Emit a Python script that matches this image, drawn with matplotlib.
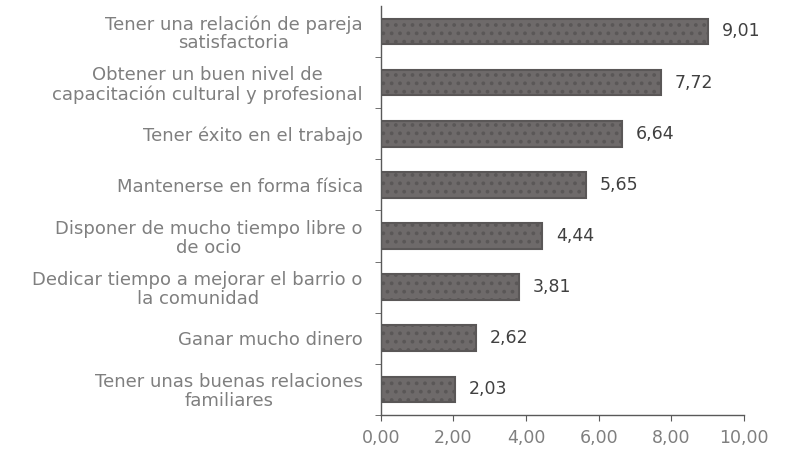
import matplotlib.pyplot as plt
import matplotlib as mpl

mpl.rcParams['font.family'] = ['DejaVu Sans']
mpl.rcParams['hatch.color'] = 'white'
mpl.rcParams['hatch.linewidth'] = 1.5

categories = ['Tener una relación de pareja\nsatisfactoria',
              'Obtener un buen nivel de\ncapacitación cultural y profesional',
              'Tener éxito en el trabajo',
              'Mantenerse en forma física',
              'Disponer de mucho tiempo libre o\nde ocio',
              'Dedicar tiempo a mejorar el barrio o\nla comunidad',
              'Ganar mucho dinero',
              'Tener unas buenas relaciones\nfamiliares']
values = [9.01, 7.72, 6.64, 5.65, 4.44, 3.81, 2.62, 2.03]
xticks = [0, 2, 4, 6, 8, 10]

fig = plt.figure(figsize=(7.87, 4.55), dpi=100)
ax = fig.add_axes([0.484, 0.088, 0.461, 0.899])

pos = list(range(len(values)))[::-1]
ax.barh(pos, values, height=0.5, color='#6e6a6a', edgecolor='#5a5757',
        linewidth=1.5, hatch='..')

for p, v in zip(pos, values):
    ax.text(v + 0.38, p, f'{v:.2f}'.replace('.', ','), va='center',
            ha='left', fontsize=12.5, color='#404040')

ax.set_ylim(-0.5, len(values) - 0.5)
ax.set_xlim(0, 10)
ax.set_xticks(xticks)
ax.set_xticklabels([f'{t:.2f}'.replace('.', ',') for t in xticks])
ax.set_yticks(pos)
ax.set_yticklabels(categories, ha='right', multialignment='center',
                   linespacing=1.05)
ax.set_yticks([p - 0.5 for p in pos], minor=True)

for s in ['top', 'right']:
    ax.spines[s].set_visible(False)
for s in ['left', 'bottom']:
    ax.spines[s].set_color('#595959')
    ax.spines[s].set_linewidth(1.0)

ax.tick_params(axis='y', which='major', length=0, pad=13, labelsize=13,
               labelcolor='#7f7f7f')
ax.tick_params(axis='y', which='minor', length=4, color='#595959')
ax.tick_params(axis='x', length=4, color='#595959', labelsize=12.5,
               labelcolor='#7f7f7f', pad=6)

fig.savefig('out.png', dpi=100)
